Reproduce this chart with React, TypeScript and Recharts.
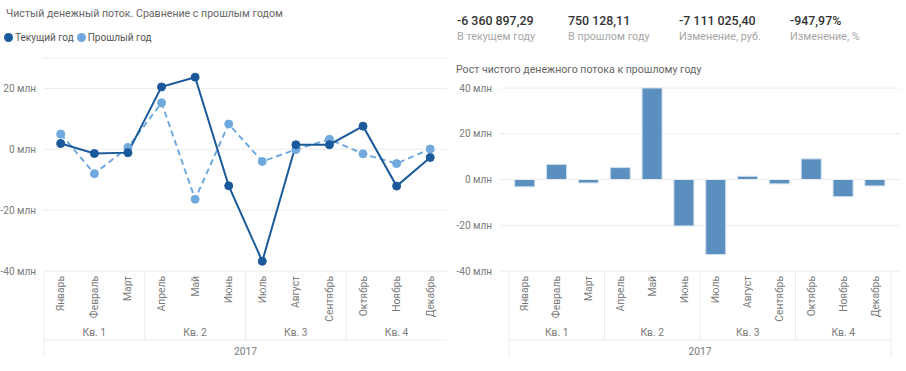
import React from "react";
import {
  LineChart,
  Line,
  BarChart,
  Bar,
  XAxis,
  YAxis,
  CartesianGrid,
  ReferenceLine,
} from "recharts";

const months = [
  "Январь",
  "Февраль",
  "Март",
  "Апрель",
  "Май",
  "Июнь",
  "Июль",
  "Август",
  "Сентябрь",
  "Октябрь",
  "Ноябрь",
  "Декабрь",
];
const quarters = ["Кв. 1", "Кв. 2", "Кв. 3", "Кв. 4"];
const year = "2017";

// млн руб.
const currentYear = [1.9, -1.4, -1.1, 20.5, 23.7, -12.0, -36.8, 1.5, 1.5, 7.6, -12.1, -2.7];
const previousYear = [5.0, -8.0, 0.6, 15.3, -16.4, 8.3, -4.0, -0.1, 3.3, -1.5, -4.7, 0.1];
const growth = [-3.2, 6.6, -1.5, 5.2, 40.0, -20.3, -32.8, 1.4, -1.9, 9.0, -7.5, -2.8];

const lineTicks = [-40, -20, 0, 20];
const barTicks = [-40, -20, 0, 20, 40];

const kpis = [
  { value: "-6 360 897,29", label: "В текущем году" },
  { value: "750 128,11", label: "В прошлом году" },
  { value: "-7 111 025,40", label: "Изменение, руб." },
  { value: "-947,97%", label: "Изменение, %" },
];

const lineData = months.map((m, i) => ({
  month: m,
  cur: currentYear[i],
  prev: previousYear[i],
}));
const barData = months.map((m, i) => ({ month: m, growth: growth[i] }));

const FONT = "Roboto, 'Open Sans', sans-serif";
const DARK = "#1a5a9b";
const LIGHT = "#70a9dd";
const BAR = "#5b8fc0";
const GRID = "#ececec";
const AXIS_TEXT = "#7a7a7a";
const TICK_SIZE = 10.3;

const MonthTick = (props: any) => {
  const { x, y, payload, index, rightBorder } = props;
  const off = payload.offset || 0;
  return (
    <g>
      <text
        x={x}
        y={y + 5}
        transform={`rotate(-90 ${x} ${y + 5})`}
        textAnchor="end"
        dominantBaseline="central"
        fontSize={TICK_SIZE}
        fontFamily={FONT}
        fill={AXIS_TEXT}
      >
        {payload.value}
      </text>
      {index % 3 === 1 && (
        <text
          x={x}
          y={y + 61}
          textAnchor="middle"
          dominantBaseline="central"
          fontSize={TICK_SIZE}
          fontFamily={FONT}
          fill={AXIS_TEXT}
        >
          {quarters[Math.floor(index / 3)]}
        </text>
      )}
      {index % 3 === 0 && (
        <line
          x1={x - off}
          x2={x - off}
          y1={y + 1}
          y2={index === 0 ? y + 86 : y + 69}
          stroke={GRID}
        />
      )}
      {index === 0 && (
        <line x1={x - off} x2={x - off + off * 24} y1={y + 69} y2={y + 69} stroke={GRID} />
      )}
      {index === 6 && (
        <text
          x={x - off}
          y={y + 80}
          textAnchor="middle"
          dominantBaseline="central"
          fontSize={TICK_SIZE}
          fontFamily={FONT}
          fill={AXIS_TEXT}
        >
          {year}
        </text>
      )}
      {index === 11 && rightBorder && (
        <line x1={x + off} x2={x + off} y1={y + 1} y2={y + 86} stroke={GRID} />
      )}
    </g>
  );
};

const ValueTick = (props: any) => {
  const { x, y, payload } = props;
  return (
    <text
      x={x}
      y={y}
      textAnchor="end"
      dominantBaseline="central"
      fontSize={10}
      fontFamily={FONT}
      fill={AXIS_TEXT}
    >
      {`${payload.value} млн`}
    </text>
  );
};

export default function App() {
  return (
    <div
      style={{
        position: "absolute",
        left: 0,
        top: 0,
        width: 906,
        height: 371,
        background: "#fff",
        fontFamily: FONT,
      }}
    >
      <div
        style={{
          position: "absolute",
          left: 6,
          top: 7,
          fontSize: 10.6,
          color: "#666",
          whiteSpace: "nowrap",
        }}
      >
        Чистый денежный поток. Сравнение с прошлым годом
      </div>
      <div
        style={{
          position: "absolute",
          left: 4,
          top: 32,
          fontSize: 10,
          color: "#555",
          display: "flex",
          alignItems: "center",
          whiteSpace: "nowrap",
        }}
      >
        <span style={{ width: 9, height: 9, borderRadius: 5, background: DARK, display: "inline-block", marginRight: 2 }} />
        <span style={{ marginRight: 3 }}>Текущий год</span>
        <span style={{ width: 9, height: 9, borderRadius: 5, background: LIGHT, display: "inline-block", marginRight: 2 }} />
        <span>Прошлый год</span>
      </div>

      <div style={{ position: "absolute", left: 0, top: 0 }}>
        <LineChart
          width={450}
          height={371}
          data={lineData}
          margin={{ top: 58, right: 3, bottom: 0, left: 0 }}
        >
          <CartesianGrid vertical={false} stroke={GRID} />
          <XAxis
            dataKey="month"
            scale="band"
            height={100}
            axisLine={false}
            tickLine={false}
            tickSize={0}
            tickMargin={0}
            interval={0}
            tick={<MonthTick />}
          />
          <YAxis
            width={44}
            domain={[-40, 30]}
            ticks={lineTicks}
            axisLine={false}
            tickLine={false}
            tick={<ValueTick />}
          />
          <Line
            dataKey="prev"
            stroke={LIGHT}
            strokeWidth={2}
            strokeDasharray="6 4"
            dot={{ r: 4, fill: LIGHT, stroke: LIGHT, strokeWidth: 1, strokeDasharray: "" }}
            activeDot={false}
            isAnimationActive={false}
          />
          <Line
            dataKey="cur"
            stroke={DARK}
            strokeWidth={2}
            dot={{ r: 4, fill: DARK, stroke: DARK, strokeWidth: 1 }}
            activeDot={false}
            isAnimationActive={false}
          />
        </LineChart>
      </div>

      {kpis.map((k, i) => (
        <div
          key={k.label}
          style={{ position: "absolute", left: 457 + i * 111, top: 12, whiteSpace: "nowrap" }}
        >
          <div style={{ fontSize: 12.4, fontWeight: 500, color: "#333", lineHeight: "17px" }}>
            {k.value}
          </div>
          <div style={{ fontSize: 10.8, color: "#a6a6a6", lineHeight: "16px" }}>{k.label}</div>
        </div>
      ))}

      <div
        style={{
          position: "absolute",
          left: 456,
          top: 63,
          fontSize: 10.6,
          color: "#666",
          whiteSpace: "nowrap",
        }}
      >
        Рост чистого денежного потока к прошлому году
      </div>

      <div style={{ position: "absolute", left: 450, top: 0 }}>
        <BarChart
          width={456}
          height={371}
          data={barData}
          margin={{ top: 88, right: 6, bottom: 0, left: 0 }}
          barCategoryGap="18%"
        >
          <CartesianGrid vertical={false} stroke={GRID} />
          <XAxis
            dataKey="month"
            height={100}
            axisLine={false}
            tickLine={false}
            tickSize={0}
            tickMargin={0}
            interval={0}
            padding={{ left: 9, right: 9 }}
            tick={<MonthTick rightBorder />}
          />
          <YAxis
            width={50}
            domain={[-40, 40]}
            ticks={barTicks}
            axisLine={false}
            tickLine={false}
            tick={<ValueTick />}
          />
          <ReferenceLine y={0} stroke={GRID} />
          <Bar
            dataKey="growth"
            fill={BAR}
            stroke="#cfe0f0"
            strokeWidth={1}
            isAnimationActive={false}
          />
        </BarChart>
      </div>
    </div>
  );
}
